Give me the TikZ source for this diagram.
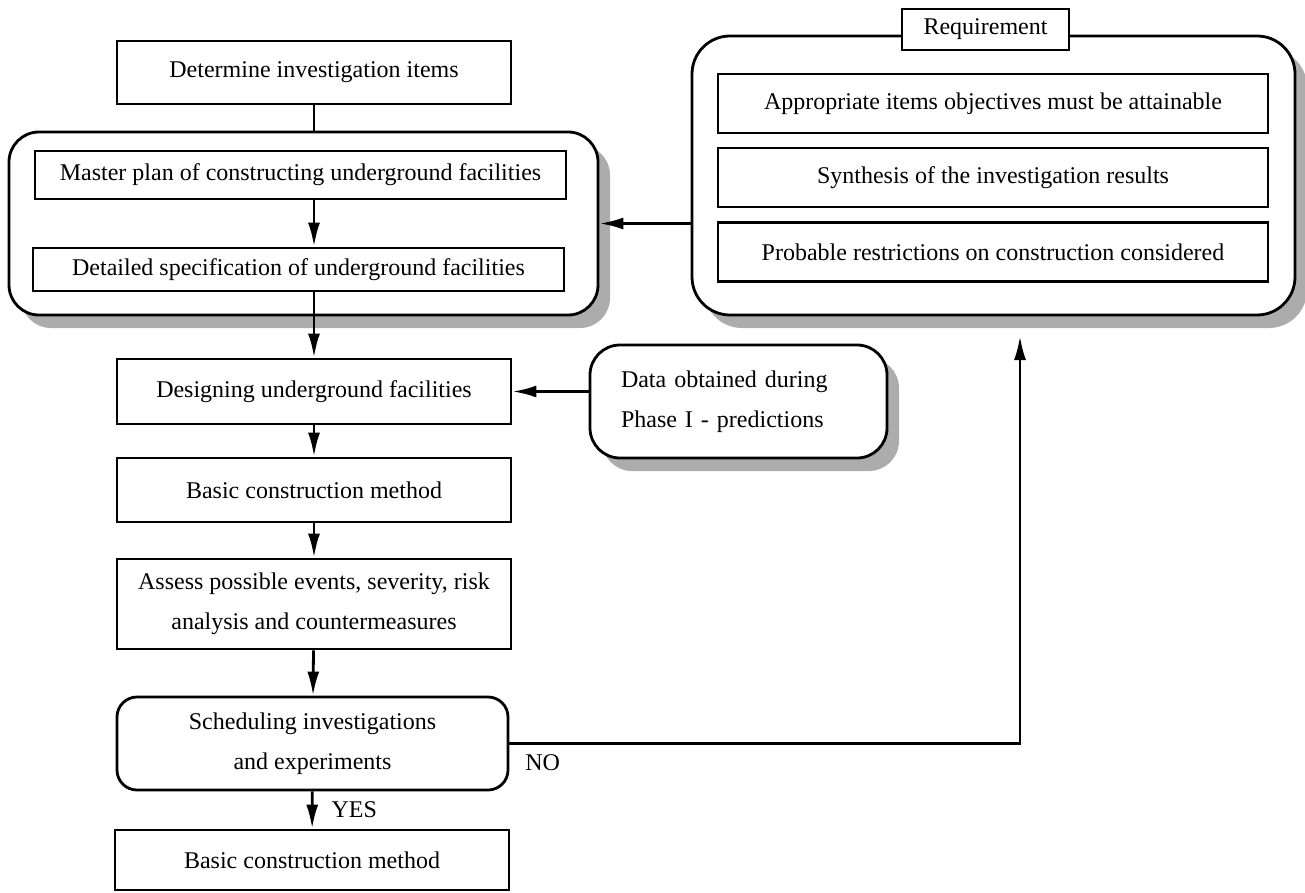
\documentclass[tikz,border=0pt]{standalone}
\usepackage{fontspec}
\setmainfont{Liberation Serif}
\usetikzlibrary{arrows.meta,shadows}

\begin{document}
\begin{tikzpicture}[
  x=1pt, y=-1pt,
  >={Latex[length=24pt,width=12pt]},
  line width=2.8pt,
  every node/.style={font=\fontsize{24}{40}\selectfont, inner sep=0pt},
  stepbox/.style={draw, fill=white, minimum width=394pt, align=center},
  itembox/.style={draw, fill=white, minimum width=550pt, minimum height=59pt},
  roundbox/.style={draw, fill=white, rounded corners=#1,
    drop shadow={shadow xshift=12pt, shadow yshift=-13pt, fill=gray!65, opacity=1}}
  ]
\useasboundingbox (0,0) rectangle (1305,893);
\node [stepbox, minimum height=63pt] (det) at (314,72.5) {Determine investigation items};
\node [roundbox=30pt, minimum width=589pt, minimum height=183pt] (group) at (303.5,223.5) {};
\node [draw, fill=white, minimum width=531pt, minimum height=48pt] (master) at (300.5,175) {Master plan of constructing underground facilities};
\node [draw, fill=white, minimum width=531pt, minimum height=43pt] (detail) at (298.5,269.5) {Detailed specification of underground facilities};
\node [stepbox, minimum height=65pt] (design) at (314,391.5) {Designing underground facilities};
\node [stepbox, minimum height=64pt] (basic) at (314,490) {Basic construction method};
\node [stepbox, minimum height=90pt] (assess) at (314,604) {Assess possible events, severity, risk\\analysis and countermeasures};
\node [stepbox, rounded corners=20pt, minimum width=391pt, minimum height=93pt] (sched) at (312.5,743.5) {Scheduling investigations\\and experiments};
\node [stepbox, minimum height=60pt] (method) at (312,860) {Basic construction method};
\node [roundbox=30pt, minimum width=297pt, minimum height=113pt, text width=235pt, align=left] (data) at (738.5,401.5) {Data obtained during\\Phase I - predictions};
\node [roundbox=38pt, minimum width=603pt, minimum height=279pt] (req) at (993.5,175.5) {};
\node [draw, fill=white, minimum width=167pt, minimum height=41pt] (reqlabel) at (985.5,29.5) {Requirement};
\node [itembox] (item1) at (993,103.5) {Appropriate items objectives must be attainable};
\node [itembox] (item2) at (993,177.5) {Synthesis of the investigation results};
\node [itembox] (item3) at (993,252) {Probable restrictions on construction considered};
\coordinate (reqfoot) at (1020,336);
\draw (det.south) -- (det.south |- group.north);
\draw [->] (master.south -| design) -- (detail.north -| design);
\draw [->] (detail.south -| design) -- (design);
\draw [->] (design) -- (basic);
\draw [->] (basic) -- (assess);
\draw [->] (assess) -- (sched);
\draw [->] (sched) -- node [right=18pt] (yes) {YES} (method);
\draw [->] (req.west |- group.east) -- (group.east);
\draw [->] (data.west |- design.east) -- (design.east);
\draw [->] (sched.east) -| (reqfoot);
\node [anchor=west] (no) at (524,763) {NO};
\end{tikzpicture}
\end{document}
